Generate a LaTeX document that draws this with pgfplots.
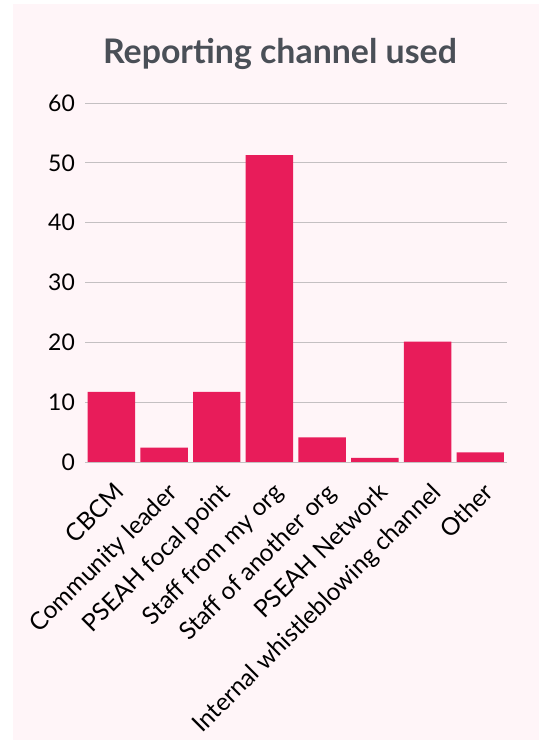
\documentclass[border=0pt]{standalone}
\usepackage{fontspec}
\setmainfont{Lato}
\usepackage{pgfplots}
\pgfplotsset{compat=1.18}
\definecolor{bg}{HTML}{FFF5F8}
\definecolor{barc}{HTML}{E81C5A}
\definecolor{titlec}{HTML}{4A4F57}
\definecolor{gridc}{HTML}{C4C0C2}
\begin{document}
\begin{tikzpicture}
\fill[white] (0bp,0bp) rectangle (539bp,740bp);
\fill[bg] (13bp,0bp) rectangle (539bp,736bp);
\node[font=\fontsize{34}{40}\selectfont\bfseries, text=titlec] at (280bp,686bp) {Reporting channel used};
\begin{axis}[
  at={(85bp,278bp)}, anchor=south west,
  width=421.6bp, height=359bp, scale only axis,
  xmin=-0.5, xmax=7.5, ymin=0, ymax=60,
  ytick={0,10,...,60},
  xtick={0,...,7},
  xticklabels={CBCM,Community leader,PSEAH focal point,Staff from my org,Staff of another org,PSEAH Network,Internal whistleblowing channel,Other},
  axis line style={draw=none},
  major tick length=0pt,
  ymajorgrids,
  grid style={gridc, line width=0.8bp},
  /pgf/number format/assume math mode=true,
  yticklabel style={font=\fontsize{23}{26}\selectfont, anchor=east, inner sep=0pt, xshift=-10bp},
  xticklabel style={font=\fontsize{24.5}{28}\selectfont, rotate=45, anchor=north east, inner sep=0pt, xshift=-12bp, yshift=-15bp},
  ybar, bar width=0.9,
]
\addplot[fill=barc, draw=none] coordinates {(0,11.7) (1,2.4) (2,11.7) (3,51.3) (4,4.1) (5,0.7) (6,20.1) (7,1.6)};
\end{axis}
\end{tikzpicture}
\end{document}
